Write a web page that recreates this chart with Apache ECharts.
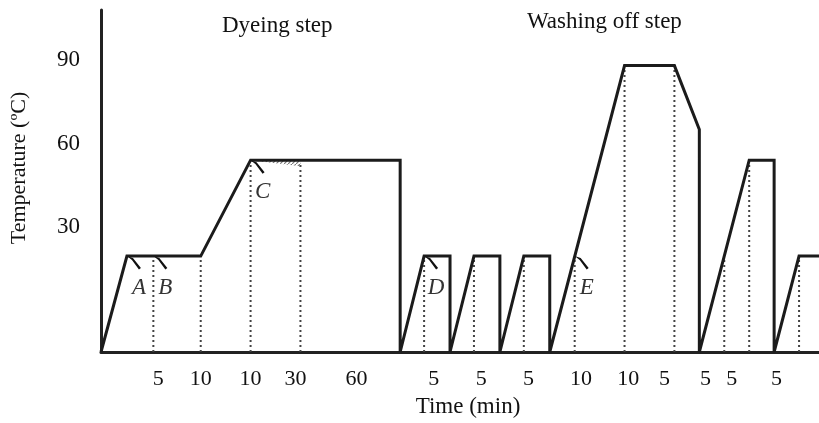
<!DOCTYPE html>
<html><head><meta charset="utf-8">
<script src="https://cdn.jsdelivr.net/npm/echarts@6/dist/echarts.min.js"></script>
<style>html,body{margin:0;padding:0;background:#fff}#c{width:819px;height:423px}</style>
</head><body><div id="c"></div>
<script>
// ---- data ----
const BASE = -15; // axis floor (temperature value at the time axis)
const dyeTime = [0, 1.04, 4, 6, 12, 12];
const dyeTemp = [BASE, 19.5, 19.5, 54, 54, BASE];
const washTime = [12, 12.96, 14, 14, 14.96, 16, 16, 16.96, 18, 18, 21, 23, 24, 24, 26, 27, 27, 28, 28.8];
const washTemp = [BASE, 19.5, 19.5, BASE, 19.5, 19.5, BASE, 19.5, 19.5, BASE, 88, 88, 65, BASE, 54, 54, BASE, 19.5, 19.5];
const dotX   = [2.1, 4, 6, 8, 12.96, 14.96, 16.96, 19, 21, 23, 25, 26, 28];
const dotTop = [19.5, 19.5, 54, 54, 19.5, 19.5, 19.5, 19.5, 88, 88, 19.5, 54, 19.5];
const markName = ['A', 'B', 'C', 'D', 'E'];
const markX    = [1.04, 2.1, 6, 12.96, 19];
const markY    = [19.5, 19.5, 54, 19.5, 19.5];
const hatchX = [6, 8, 8];
const hatchY = [54, 54, 51.8];
const tickPos  = [2.3, 4, 6, 7.8, 10.25, 13.35, 15.25, 17.15, 19.25, 21.15, 22.6, 24.25, 25.3, 27.1];
const tickText = ['5', '10', '10', '30', '60', '5', '5', '5', '10', '10', '5', '5', '5', '5'];
const yTicks = [30, 60, 90];

const FONT = '"Liberation Serif", "Times New Roman", serif';
const chart = echarts.init(document.getElementById('c'));

// hatch pattern
const pc = document.createElement('canvas');
pc.width = 4; pc.height = 4;
const pctx = pc.getContext('2d');
pctx.strokeStyle = '#777'; pctx.lineWidth = 1.2;
pctx.beginPath(); pctx.moveTo(0, 4); pctx.lineTo(4, 0); pctx.stroke();

const curve = dyeTime.map((t, i) => [t, dyeTemp[i]])
  .concat(washTime.map((t, i) => [t, washTemp[i]]));

chart.setOption({
  animation: false,
  backgroundColor: '#fff',
  title: [
    { text: 'Dyeing step', left: 222, top: 14, padding: 0,
      textStyle: { fontFamily: FONT, fontSize: 23, fontWeight: 'normal', color: '#111' } },
    { text: 'Washing off step', left: 527, top: 10, padding: 0,
      textStyle: { fontFamily: FONT, fontSize: 23, fontWeight: 'normal', color: '#111' } }
  ],
  grid: { left: 99, right: 0, top: 10, bottom: 68 },
  xAxis: {
    type: 'value', min: 0, max: 28.8,
    axisLine: { onZero: false, lineStyle: { color: '#222', width: 3 } },
    axisTick: { show: false },
    splitLine: { show: false },
    axisLabel: {
      customValues: tickPos,
      formatter: v => { const i = tickPos.indexOf(v); return i >= 0 ? tickText[i] : ''; },
      margin: 16, fontSize: 22, fontFamily: FONT, color: '#111'
    },
    name: 'Time (min)', nameLocation: 'middle', nameGap: 43,
    nameTextStyle: { fontFamily: FONT, fontSize: 23, color: '#111', padding: [0, 0, 0, 16] }
  },
  yAxis: {
    type: 'value', min: BASE, max: 108, interval: 15,
    axisLine: { show: true, onZero: false, lineStyle: { color: '#222', width: 3 } },
    axisTick: { show: false },
    splitLine: { show: false },
    axisLabel: {
      formatter: v => (yTicks.indexOf(v) >= 0 ? String(v) : ''),
      margin: 21, fontSize: 23, fontFamily: FONT, color: '#111'
    },
    name: 'Temperature (ºC)', nameLocation: 'middle', nameGap: 71, nameRotate: 90,
    nameTextStyle: { fontFamily: FONT, fontSize: 22, color: '#111', padding: [0, 0, 0, 26] }
  },
  series: [
    {
      type: 'custom', z: 1,
      data: dotX.map((x, i) => [x, BASE, dotTop[i]]),
      renderItem: (params, api) => {
        const p0 = api.coord([api.value(0), api.value(1)]);
        const p1 = api.coord([api.value(0), api.value(2)]);
        return { type: 'line',
          shape: { x1: p0[0], y1: p0[1], x2: p1[0], y2: p1[1] + 4 },
          style: { stroke: '#444', lineWidth: 2, lineDash: [2, 3] } };
      }
    },
    {
      type: 'custom', z: 2,
      data: [[0]],
      renderItem: (params, api) => {
        const pts = hatchX.map((x, i) => api.coord([x, hatchY[i]]));
        return { type: 'polygon', shape: { points: pts },
          style: { fill: { image: pc, repeat: 'repeat' }, stroke: null } };
      }
    },
    {
      type: 'line', z: 3, data: curve, symbol: 'none', clip: false,
      lineStyle: { color: '#1b1b1b', width: 3, join: 'miter', miterLimit: 2.5 }
    },
    {
      type: 'custom', z: 4,
      data: markX.map((x, i) => [x, markY[i], i]),
      renderItem: (params, api) => {
        const p = api.coord([api.value(0), api.value(1)]);
        const name = markName[api.value(2)];
        return { type: 'group', x: p[0], y: p[1], children: [
          { type: 'polygon',
            shape: { points: [[0, 0], [6, 2], [14, 12], [12, 13.5], [5, 4]] },
            style: { fill: '#111', stroke: null } },
          { type: 'text', x: 12, y: 32,
            style: { text: name, font: 'italic 23px ' + FONT, fill: '#333',
                     align: 'center', verticalAlign: 'middle' } }
        ] };
      }
    }
  ]
});
</script></body></html>
